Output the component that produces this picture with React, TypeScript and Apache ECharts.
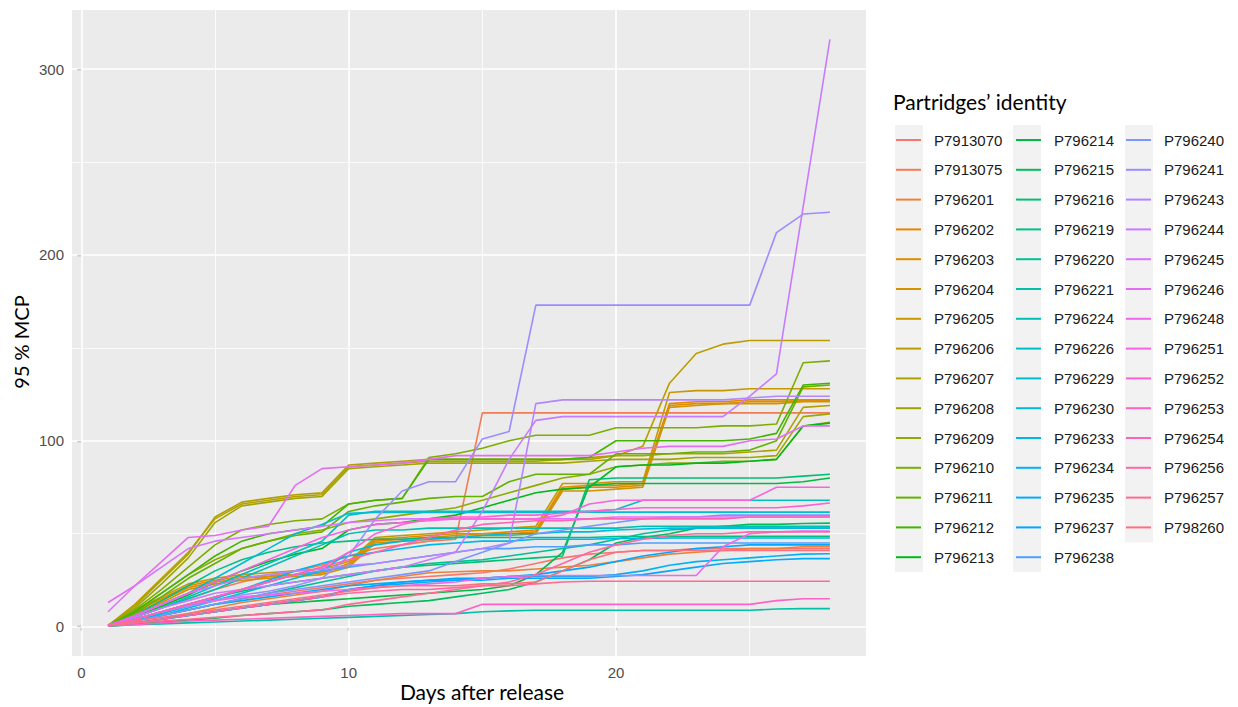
import React, { useEffect, useRef } from "react";
import * as echarts from "echarts";

const DAYS = [1, 2, 3, 4, 5, 6, 7, 8, 9, 10, 11, 12, 13, 14, 15, 16, 17, 18, 19, 20, 21, 22, 23, 24, 25, 26, 27, 28];

const BIRD_IDS = [
  "P7913070", "P7913075", "P796201", "P796202", "P796203", "P796204", "P796205", "P796206",
  "P796207", "P796208", "P796209", "P796210", "P796211", "P796212", "P796213",
  "P796214", "P796215", "P796216", "P796219", "P796220", "P796221", "P796224", "P796226",
  "P796229", "P796230", "P796233", "P796234", "P796235", "P796237", "P796238",
  "P796240", "P796241", "P796243", "P796244", "P796245", "P796246", "P796248", "P796251",
  "P796252", "P796253", "P796254", "P796256", "P796257", "P798260",
];

const P7913070 = [0.6, 3, 6, 9, 12, 15, 17, 19, 21, 23, 25, 26, 27, 28, 29, 31, 34, 37, 39, 40, 41, 41, 42, 42, 42, 42, 42, 42];
const P7913075 = [0.8, 5, 10, 15, 20, 24, 27, 30, 33, 38, 42, 44, 46, 47, 115, 115, 115, 115, 115, 115, 115, 115, 115, 115, 115, 115, 115, 115];
const P796201 = [0.5, 2, 4, 7, 10, 13, 15, 17, 19, 22, 25, 27, 29, 29.5, 30, 30, 31, 32, 33, 35, 37, 39, 40, 41, 42, 42, 43, 43];
const P796202 = [0.7, 8, 15, 22, 25, 27, 27, 28, 29, 34, 47, 48, 49, 50, 50, 51, 52, 75, 76, 76, 77, 120, 121, 121, 122, 122, 122, 122];
const P796203 = [0.5, 7, 14, 21, 24, 26, 27, 28, 29, 33, 46, 47, 48, 49, 50, 50, 51, 74, 75, 75, 76, 119, 120, 120, 121, 121, 121.5, 121.5];
const P796204 = [0.6, 7, 13, 20, 23, 25, 26, 27, 28, 32, 45, 46, 47, 48, 49, 49, 50, 73, 73, 74, 75, 118, 119, 120, 120, 120, 121, 121];
const P796205 = [0.8, 9, 16, 23, 26, 28, 29, 30, 31, 35, 48, 49, 50, 51, 52, 53, 54, 77, 77, 78, 78, 126, 127, 127, 128, 128, 128, 128];
const P796206 = [0.5, 12, 26, 40, 58, 66, 68, 70, 71, 86, 87, 88, 89, 89, 89, 89, 89, 90, 90, 92, 97, 131, 147, 152, 154, 154, 154, 154];
const P796207 = [0.6, 11, 25, 39, 59, 67, 69, 71, 72, 87, 88, 89, 90, 90, 90, 90, 90, 90, 91, 92, 92, 93, 93, 93, 94, 95, 118, 119];
const P796208 = [0.5, 10, 23, 37, 56, 65, 67, 69, 70, 85, 86, 87, 88, 88, 88, 88, 88, 88, 89, 90, 90, 90, 91, 91, 91, 92, 113, 114.5];
const P796209 = [0.5, 8, 18, 28, 36, 42, 46, 50, 52, 56, 58, 60, 62, 64, 68, 72, 76, 80, 82, 86, 87, 88, 88, 89, 89, 90, 108, 110];
const P796210 = [0.5, 9, 20, 32, 44, 52, 55, 57, 58, 66, 68, 69, 91, 93, 96, 100, 103, 103, 103, 107, 107, 107, 107, 108, 108, 109, 142, 143];
const P796211 = [0.5, 7, 16, 26, 34, 42, 46, 49, 51, 62, 65, 67, 69, 70, 70, 78, 82, 82, 82, 93, 93, 93, 94, 94, 95, 100, 129, 130];
const P796212 = [0.5, 8, 18, 28, 38, 46, 50, 52, 54, 66, 68, 69, 90, 90, 90, 90, 90, 90, 91, 100, 100, 100, 100, 100, 101, 104, 130, 131];
const P796213 = [0.4, 5, 11, 17, 24, 30, 35, 39, 42, 52, 55, 56, 58, 60, 64, 68, 72, 74, 75, 86, 87, 87, 88, 88, 89, 90, 108, 109.5];
const P796214 = [0.4, 2, 4, 6, 8, 10, 12, 13, 14, 15, 16, 17, 18, 19, 20, 22, 28, 40, 76, 77, 77, 77, 77, 77, 77, 77, 78, 80];
const P796215 = [0.3, 1.5, 2.5, 3.5, 4.5, 6, 7, 8, 9, 11, 12, 13, 14, 16, 18, 20, 24, 30, 36, 45, 48, 50, 53, 54, 55, 55, 55.5, 55.7];
const P796216 = [0.5, 4, 8, 12, 16, 19, 22, 24, 26, 28, 30, 32, 33, 34, 35, 36, 37, 38, 79, 80, 80, 80, 80, 80, 80, 80, 81, 82];
const P796219 = [0.5, 6, 14, 22, 30, 36, 40, 43, 45, 46, 47, 47, 48, 48, 48, 48, 48, 48, 48, 48.5, 48.5, 48.5, 48.6, 48.6, 48.6, 48.6, 48.6, 48.6];
const P796220 = [0.5, 3, 6, 9, 12, 15, 18, 21, 24, 27, 30, 32, 34, 35, 36, 38, 40, 42, 44, 47, 50, 52, 53, 53, 53, 53, 53, 53];
const P796221 = [0.3, 1, 1.5, 2, 2.5, 3, 3.5, 4, 4.5, 5, 5.5, 6, 6.5, 7, 8, 8.5, 8.8, 8.8, 8.8, 8.8, 8.8, 8.8, 8.8, 8.8, 8.8, 9.5, 9.7, 9.7];
const P796224 = [0.5, 5, 10, 15, 20, 26, 32, 38, 44, 50, 52, 52, 53, 53, 53, 53, 53, 53, 53, 53, 54, 54, 54, 54, 54, 54, 54, 54];
const P796226 = [0.5, 5, 10, 16, 22, 28, 34, 40, 46, 60, 62, 62, 62, 62, 62, 62, 62, 62, 62, 63, 68, 68, 68, 68, 68, 68, 68, 68];
const P796229 = [0.5, 6, 12, 18, 26, 34, 42, 50, 55, 61, 61.5, 61.5, 61.5, 61.5, 61.5, 61.5, 61.5, 61.5, 61.6, 61.6, 61.6, 61.6, 61.6, 61.6, 61.6, 61.6, 61.6, 61.6];
const P796230 = [0.5, 3, 6, 10, 14, 18, 22, 26, 30, 40, 44, 46, 47, 48, 49, 50, 50, 51, 51, 52, 52.5, 53, 53, 53, 53, 53, 53, 53];
const P796233 = [0.5, 3, 7, 11, 15, 20, 25, 30, 34, 38, 40, 42, 44, 45, 46, 46, 47, 47, 47, 47.5, 47.5, 47.7, 47.7, 47.7, 47.7, 47.7, 47.7, 47.7];
const P796234 = [0.5, 2, 4, 6, 8, 10, 12, 14, 16, 20, 22, 23, 24, 25, 26, 27, 27, 27, 27, 28, 30, 33, 35, 36, 37, 38, 39, 39.2];
const P796235 = [0.5, 3, 6, 9, 12, 14, 16, 18, 20, 22, 23, 24, 25, 25, 25, 26, 26, 26, 26, 27, 28, 30, 32, 34, 35, 36, 36.6, 36.6];
const P796237 = [0.5, 2, 4, 6, 8, 10, 12, 14, 16, 20, 22, 24, 25, 26, 26, 27, 28, 30, 32, 35, 38, 40, 42, 43, 44, 44, 44, 44];
const P796238 = [0.5, 4, 8, 12, 16, 20, 24, 28, 30, 32, 34, 36, 38, 40, 42, 42, 43, 43, 44, 44, 45, 45, 45, 45, 45, 45, 45, 45];
const P796240 = [0.5, 3, 6, 9, 12, 15, 18, 20, 22, 24, 26, 28, 30, 35, 40, 45, 50, 52, 54, 56, 58, 59, 59, 60, 60, 60, 60, 60];
const P796241 = [0.5, 4, 8, 11, 14, 17, 19, 22, 26, 38, 58, 73, 78, 78, 101, 105, 173, 173, 173, 173, 173, 173, 173, 173, 173, 212, 222, 223];
const P796243 = [0.5, 6, 12, 18, 22, 26, 28, 30, 31, 33, 34, 36, 38, 40, 42, 45, 120, 122, 122, 122, 122, 122, 122, 122, 123, 124, 124, 124];
const P796244 = [1, 5, 10, 14, 18, 20, 22, 24, 26, 28, 30, 32, 36, 40, 62, 90, 111, 113, 113, 113, 113, 113, 113, 113, 124, 136, 226, 316];
const P796245 = [8, 22, 32, 42, 46, 48, 50, 52, 54, 56, 57, 58, 58, 58, 58, 58, 58, 58, 58, 59, 59, 59, 59, 59, 59, 59, 59, 59];
const P796246 = [13, 22, 35, 48, 49, 52, 54, 76, 85, 86, 87, 88, 90, 92, 92, 92, 92, 92, 92, 94, 96, 97, 97, 97, 100, 101, 108, 108];
const P796248 = [0.5, 4, 8, 12, 14, 16, 17, 18, 19, 20, 21, 22, 23, 24, 26, 27, 27.5, 27.5, 27.5, 27.5, 27.5, 27.5, 27.5, 43, 50, 51, 51.4, 51.4];
const P796251 = [0.5, 6, 12, 18, 24, 30, 36, 42, 48, 52, 55, 56, 57, 58, 58, 58, 58, 60, 66, 68, 68, 68, 68, 68, 68, 75, 75, 75];
const P796252 = [0.5, 4, 8, 12, 16, 20, 24, 28, 32, 40, 50, 55, 58, 59, 59, 60, 60, 61, 62, 63, 64, 64, 64, 64, 64, 64, 65, 66.5];
const P796253 = [0.5, 1, 2, 3, 3.5, 4, 4.5, 5, 5.5, 6, 6.5, 7, 7, 7, 12, 12, 12, 12, 12, 12, 12, 12, 12, 12, 12, 14, 15, 15];
const P796254 = [0.5, 4, 8, 12, 16, 20, 24, 28, 32, 36, 40, 44, 48, 52, 55, 56, 57, 57, 58, 58, 58, 58, 58, 58, 59, 59, 59, 59];
const P796256 = [0.5, 2, 4, 6, 8, 10, 12, 14, 16, 18, 19, 20, 20, 21, 22, 24, 28, 34, 40, 44, 47, 49, 50, 50, 51, 51, 51, 51];
const P796257 = [0.5, 2, 3, 4, 5, 6, 7, 8, 9, 12, 14, 16, 18, 20, 22, 22, 23, 24, 24.4, 24.4, 24.4, 24.4, 24.4, 24.4, 24.4, 24.4, 24.4, 24.4];
const P798260 = [0.5, 3, 5, 7, 9, 11, 13, 15, 17, 19, 21, 22, 22, 22, 23, 23, 24, 30, 36, 40, 41, 41, 41, 41, 41, 41, 41, 41];

const SERIES_VALUES = [
  P7913070, P7913075, P796201, P796202, P796203, P796204, P796205, P796206,
  P796207, P796208, P796209, P796210, P796211, P796212, P796213,
  P796214, P796215, P796216, P796219, P796220, P796221, P796224, P796226,
  P796229, P796230, P796233, P796234, P796235, P796237, P796238,
  P796240, P796241, P796243, P796244, P796245, P796246, P796248, P796251,
  P796252, P796253, P796254, P796256, P796257, P798260,
];

const X_TICKS = [0, 10, 20];
const X_MINOR = [5, 15, 25];
const Y_TICKS = [0, 100, 200, 300];
const Y_MINOR = [50, 150, 250];

function hclToHex(h: number, c: number, l: number): string {
  const hr = (h * Math.PI) / 180;
  const u = c * Math.cos(hr);
  const v = c * Math.sin(hr);
  const Xn = 0.95047, Yn = 1, Zn = 1.08883;
  const den = Xn + 15 * Yn + 3 * Zn;
  const un = (4 * Xn) / den;
  const vn = (9 * Yn) / den;
  const Y = l > 8 ? Yn * Math.pow((l + 16) / 116, 3) : (Yn * l) / 903.3;
  const up = u / (13 * l) + un;
  const vp = v / (13 * l) + vn;
  const X = (9 * Y * up) / (4 * vp);
  const Z = (Y * (12 - 3 * up - 20 * vp)) / (4 * vp);
  const lin = [
    3.240479 * X - 1.53715 * Y - 0.498535 * Z,
    -0.969256 * X + 1.875992 * Y + 0.041556 * Z,
    0.055648 * X - 0.204043 * Y + 1.057311 * Z,
  ];
  return (
    "#" +
    lin
      .map((ch) => {
        let s = ch <= 0.0031308 ? 12.92 * ch : 1.055 * Math.pow(ch, 1 / 2.4) - 0.055;
        s = Math.min(1, Math.max(0, s));
        return Math.round(s * 255).toString(16).padStart(2, "0");
      })
      .join("")
  );
}

export default function App() {
  const ref = useRef<HTMLDivElement>(null);

  useEffect(() => {
    if (!ref.current) return;
    const chart = echarts.init(ref.current, null, { renderer: "svg" });
    const n = BIRD_IDS.length;
    const colors = BIRD_IDS.map((_, i) => hclToHex(15 + (360 / n) * i, 100, 65));

    const gridLine = (axis: "xAxis" | "yAxis", v: number, w: number) => ({
      [axis]: v,
      lineStyle: { color: "#ffffff", width: w, type: "solid" },
    });

    const dataSeries = BIRD_IDS.map((id, i) => ({
      name: id,
      type: "line",
      data: DAYS.map((d, k) => [d, SERIES_VALUES[i][k]]),
      showSymbol: false,
      symbol: "none",
      silent: true,
      z: 3,
      color: colors[i],
      lineStyle: { color: colors[i], width: 1.6 },
      emphasis: { disabled: true },
    }));

    const gridSeries = {
      name: "__grid",
      type: "line",
      data: [[DAYS[0], 0]],
      showSymbol: false,
      symbol: "none",
      silent: true,
      lineStyle: { opacity: 0 },
      z: 1,
      markLine: {
        silent: true,
        z: 1,
        symbol: ["none", "none"],
        label: { show: false },
        animation: false,
        data: [
          ...X_MINOR.map((v) => gridLine("xAxis", v, 0.8)),
          ...Y_MINOR.map((v) => gridLine("yAxis", v, 0.8)),
          ...X_TICKS.map((v) => gridLine("xAxis", v, 1.6)),
          ...Y_TICKS.map((v) => gridLine("yAxis", v, 1.6)),
        ],
      },
    };

    const cols = [BIRD_IDS.slice(0, 15), BIRD_IDS.slice(15, 30), BIRD_IDS.slice(30)];
    const colLeft = [896, 1016, 1126];
    const keyLeft = [895, 1013, 1125];

    const legends = cols.map((names, k) => ({
      data: names,
      orient: "vertical",
      left: colLeft[k],
      top: 132,
      padding: 0,
      itemWidth: 25,
      itemHeight: 2,
      itemGap: 13.8,
      icon: "rect",
      selectedMode: false,
      textStyle: {
        fontFamily: "Liberation Sans",
        fontSize: 15,
        color: "#1a1a1a",
        lineHeight: 16,
        padding: [0, 0, 0, 8],
      },
    }));

    const keyBoxes = cols.map((names, k) => ({
      type: "rect",
      shape: { x: keyLeft[k], y: 125, width: 28, height: names.length * 29.8 },
      style: { fill: "#f2f2f2" },
      z: 0,
      silent: true,
    }));

    const option = {
      animation: false,
      backgroundColor: "#ffffff",
      grid: {
        left: 72,
        top: 10,
        width: 794,
        height: 646,
        show: true,
        backgroundColor: "#ebebeb",
        borderWidth: 0,
        containLabel: false,
      },
      xAxis: {
        type: "value",
        min: -0.35,
        max: 29.35,
        axisLine: { show: false },
        axisTick: { show: true, length: 4, lineStyle: { color: "#333333", width: 1.2 }, customValues: X_TICKS },
        axisLabel: {
          customValues: X_TICKS,
          color: "#4d4d4d",
          fontFamily: "Liberation Sans",
          fontSize: 15,
          margin: 9,
        },
        splitLine: { show: false },
      },
      yAxis: {
        type: "value",
        min: -15.8,
        max: 331.8,
        axisLine: { show: false },
        axisTick: { show: true, length: 4, lineStyle: { color: "#333333", width: 1.2 }, customValues: Y_TICKS },
        axisLabel: {
          customValues: Y_TICKS,
          color: "#4d4d4d",
          fontFamily: "Liberation Sans",
          fontSize: 15,
          margin: 8,
        },
        splitLine: { show: false },
      },
      legend: legends,
      graphic: [
        ...keyBoxes,
        {
          type: "text",
          x: 893,
          y: 101,
          silent: true,
          style: {
            text: "Partridges\u2019 identity",
            font: "21px Lato",
            fill: "#000000",
            textAlign: "left",
            textVerticalAlign: "middle",
          },
        },
        {
          type: "text",
          x: 482,
          y: 691,
          silent: true,
          style: {
            text: "Days after release",
            font: "21px Lato",
            fill: "#000000",
            textAlign: "center",
            textVerticalAlign: "middle",
          },
        },
        {
          type: "text",
          x: 21,
          y: 342,
          rotation: Math.PI / 2,
          silent: true,
          style: {
            text: "95 % MCP",
            font: "20px Lato",
            fill: "#000000",
            textAlign: "center",
            textVerticalAlign: "middle",
          },
        },
      ],
      series: [gridSeries, ...dataSeries],
    };

    chart.setOption(option as any);
    return () => chart.dispose();
  }, []);

  return (
    <div
      ref={ref}
      style={{ position: "fixed", left: 0, top: 0, width: 1238, height: 707, background: "#ffffff" }}
    />
  );
}
